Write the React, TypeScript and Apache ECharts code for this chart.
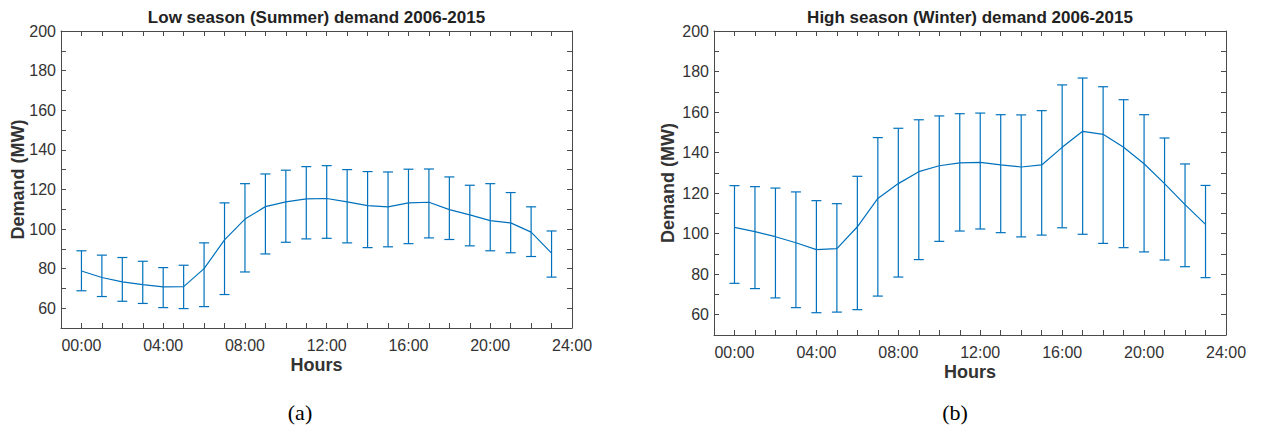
import React, { useEffect, useRef } from "react";
import * as echarts from "echarts";

const hours = [0, 1, 2, 3, 4, 5, 6, 7, 8, 9, 10, 11, 12, 13, 14, 15, 16, 17, 18, 19, 20, 21, 22, 23];

const summerMean = [78.8, 75.5, 73.3, 71.9, 70.8, 70.9, 80.0, 94.5, 105.0, 111.3, 113.7, 115.2, 115.4, 113.7, 111.8, 111.2, 113.2, 113.5, 109.8, 107.1, 104.2, 103.1, 98.4, 87.8];
const summerUpper = [89.0, 86.8, 85.6, 83.7, 80.5, 81.7, 93.0, 113.2, 122.9, 127.8, 129.7, 131.5, 132.0, 130.0, 129.0, 128.8, 130.2, 130.3, 126.3, 122.1, 122.9, 118.4, 111.2, 99.0];
const summerLower = [68.8, 65.9, 63.5, 62.4, 60.3, 59.8, 60.8, 66.9, 78.3, 87.4, 93.3, 95.0, 95.3, 93.0, 90.6, 91.0, 92.6, 95.5, 94.7, 91.5, 89.0, 88.0, 86.1, 75.7];

const winterMean = [103.1, 101.0, 98.5, 95.5, 92.1, 92.6, 103.4, 117.4, 124.7, 130.6, 133.5, 134.9, 135.2, 133.9, 132.9, 133.9, 142.6, 150.5, 149.0, 142.6, 134.5, 124.7, 114.3, 104.6];
const winterUpper = [123.7, 123.2, 122.5, 120.6, 116.3, 114.8, 128.3, 147.4, 152.0, 156.2, 158.1, 159.2, 159.5, 158.7, 158.6, 160.7, 173.4, 176.8, 172.5, 166.1, 158.7, 147.2, 134.4, 123.8];
const winterLower = [75.5, 72.9, 68.3, 63.5, 61.0, 61.3, 62.5, 69.2, 78.6, 87.2, 96.2, 101.3, 102.3, 100.5, 98.4, 99.3, 102.9, 99.7, 95.2, 93.1, 91.0, 87.0, 83.7, 78.3];

const xTickLabelHours = [0, 4, 8, 12, 16, 20, 24];
const yTickLabels = [60, 80, 100, 120, 140, 160, 180, 200];

const titles = ["Low season (Summer) demand 2006-2015", "High season (Winter) demand 2006-2015"];
const captions = ["(a)", "(b)"];

const BLUE = "#0072BD";
const AXIS = "#4a4a4a";
const TEXT = "#333333";
const FONT = "'Liberation Sans', Arial, Helvetica, sans-serif";

const grids = [
  { left: 61, top: 31, width: 511, height: 297 },
  { left: 714, top: 31, width: 512, height: 304 },
];

function fmtHour(v: number) {
  if (!xTickLabelHours.includes(v)) return "";
  return (v < 10 ? "0" + v : "" + v) + ":00";
}

export default function App() {
  const ref = useRef<HTMLDivElement>(null);
  useEffect(() => {
    document.body.style.margin = "0";
    if (!ref.current) return;
    const chart = echarts.init(ref.current, undefined, { renderer: "svg" });

    const xAxes: any[] = [];
    const yAxes: any[] = [];
    const series: any[] = [];
    const graphics: any[] = [];
    const datasets = [
      { mean: summerMean, upper: summerUpper, lower: summerLower },
      { mean: winterMean, upper: winterUpper, lower: winterLower },
    ];

    grids.forEach((g, i) => {
      const base = {
        type: "value",
        min: -1,
        max: 24,
        interval: 1,
        gridIndex: i,
        splitLine: { show: false },
        axisLine: { show: true, onZero: false, lineStyle: { color: AXIS, width: 1 } },
        axisTick: { show: true, inside: true, length: 5, lineStyle: { color: AXIS } },
      };
      xAxes.push({
        ...base,
        position: "bottom",
        axisLabel: {
          show: true,
          interval: 0,
          formatter: (v: number) => fmtHour(v),
          color: TEXT,
          fontSize: 16,
          fontFamily: FONT,
          margin: 9,
        },
      });
      xAxes.push({
        ...base,
        position: "top",
        axisLabel: { show: false },
      });
      const ybase = {
        type: "value",
        min: 50,
        max: 200,
        interval: 10,
        gridIndex: i,
        splitLine: { show: false },
        axisLine: { show: true, onZero: false, lineStyle: { color: AXIS, width: 1 } },
        axisTick: { show: true, inside: true, length: 5, lineStyle: { color: AXIS } },
      };
      yAxes.push({
        ...ybase,
        position: "left",
        axisLabel: {
          show: true,
          formatter: (v: number) => (yTickLabels.includes(v) ? String(v) : ""),
          color: TEXT,
          fontSize: 16,
          fontFamily: FONT,
          margin: 5,
        },
      });
      yAxes.push({
        ...ybase,
        position: "right",
        axisLabel: { show: false },
      });

      const d = datasets[i];
      series.push({
        type: "custom",
        xAxisIndex: i * 2,
        yAxisIndex: i * 2,
        data: hours.map((h, k) => [h, d.lower[k], d.upper[k]]),
        renderItem: (params: any, api: any) => {
          const x = api.value(0);
          const lo = api.coord([x, api.value(1)]);
          const hi = api.coord([x, api.value(2)]);
          const cw = 5;
          const style = { stroke: BLUE, lineWidth: 1.2 };
          return {
            type: "group",
            children: [
              { type: "line", shape: { x1: lo[0], y1: lo[1], x2: hi[0], y2: hi[1] }, style },
              { type: "line", shape: { x1: lo[0] - cw, y1: lo[1], x2: lo[0] + cw, y2: lo[1] }, style },
              { type: "line", shape: { x1: hi[0] - cw, y1: hi[1], x2: hi[0] + cw, y2: hi[1] }, style },
            ],
          };
        },
        z: 3,
      });
      series.push({
        type: "line",
        xAxisIndex: i * 2,
        yAxisIndex: i * 2,
        data: hours.map((h, k) => [h, d.mean[k]]),
        showSymbol: false,
        symbol: "none",
        lineStyle: { color: BLUE, width: 1.2 },
        z: 4,
      });

      const cx = g.left + g.width / 2;
      graphics.push({
        type: "text",
        x: cx,
        y: 17,
        style: {
          text: titles[i],
          font: `bold 17px ${FONT}`,
          fill: "#222222",
          align: "center",
          verticalAlign: "middle",
        },
      });
      graphics.push({
        type: "text",
        x: cx,
        y: g.top + g.height + 37,
        style: {
          text: "Hours",
          font: `bold 18px ${FONT}`,
          fill: TEXT,
          align: "center",
          verticalAlign: "middle",
        },
      });
      graphics.push({
        type: "text",
        x: g.left - (i === 0 ? 43 : 46),
        y: g.top + g.height / 2,
        rotation: Math.PI / 2,
        style: {
          text: "Demand (MW)",
          font: `bold 18px ${FONT}`,
          fill: TEXT,
          align: "center",
          verticalAlign: "middle",
        },
      });
      graphics.push({
        type: "text",
        x: i === 0 ? 300 : 955,
        y: 412,
        style: {
          text: captions[i],
          font: `22px 'Liberation Serif', 'Times New Roman', serif`,
          fill: "#000000",
          align: "center",
          verticalAlign: "middle",
        },
      });
    });

    chart.setOption({
      animation: false,
      backgroundColor: "#ffffff",
      grid: grids.map((g) => ({ ...g, containLabel: false })),
      xAxis: xAxes,
      yAxis: yAxes,
      series,
      graphic: graphics,
    });
    return () => chart.dispose();
  }, []);
  return <div ref={ref} style={{ width: 1261, height: 427 }} />;
}
